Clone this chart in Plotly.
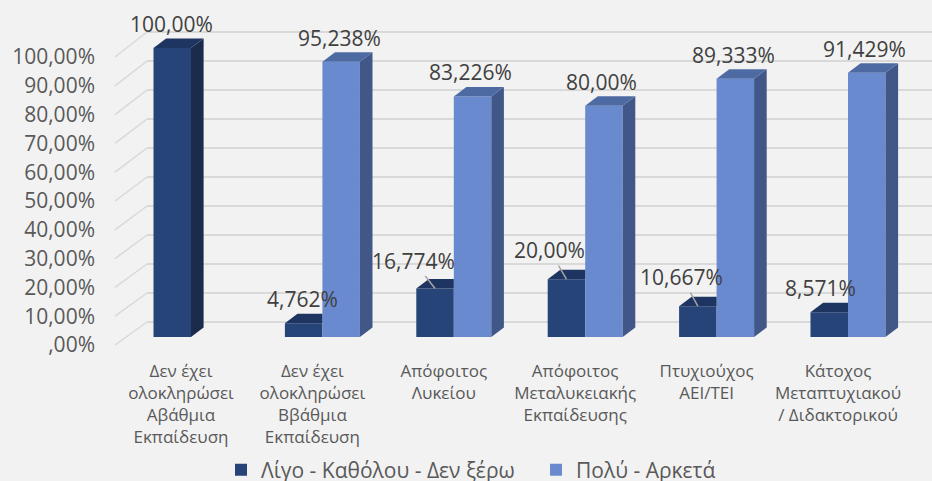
import plotly.graph_objects as go

# --- data ---
categories = [
    "Δεν έχει<br>ολοκληρώσει<br>Αβάθμια<br>Εκπαίδευση",
    "Δεν έχει<br>ολοκληρώσει<br>Ββάθμια<br>Εκπαίδευση",
    "Απόφοιτος<br>Λυκείου",
    "Απόφοιτος<br>Μεταλυκειακής<br>Εκπαίδευσης",
    "Πτυχιούχος<br>ΑΕΙ/ΤΕΙ",
    "Κάτοχος<br>Μεταπτυχιακού<br>/ Διδακτορικού",
]
series_names = ["Λίγο - Καθόλου - Δεν ξέρω", "Πολύ - Αρκετά"]
low_values = [100.0, 4.762, 16.774, 20.0, 10.667, 8.571]
high_values = [None, 95.238, 83.226, 80.0, 89.333, 91.429]
low_labels = ["100,00%", "4,762%", "16,774%", "20,00%", "10,667%", "8,571%"]
high_labels = [None, "95,238%", "83,226%", "80,00%", "89,333%", "91,429%"]
y_ticks = [0, 10, 20, 30, 40, 50, 60, 70, 80, 90, 100]
y_tick_text = [",00%", "10,00%", "20,00%", "30,00%", "40,00%", "50,00%",
               "60,00%", "70,00%", "80,00%", "90,00%", "100,00%"]

# --- styling / geometry (pixels) ---
W, H = 932, 481
PLOT_L, PLOT_B = 147, 350           # plot area: x 147..932, y 0..350
CAT0_PX, CAT_STEP = 191, 131.4      # pixel of first category centre, spacing
BAR_PX = 37.5                       # bar front width
DEPTH_DX, DEPTH_DY = 12.6, 9.5      # 3-D depth of a bar
BAR_ZERO, BAR_SCALE = 337, 2.89     # bar plane: pixel of 0 %, px per 1 %
BACK_ZERO, BACK_SCALE = 322, 2.90   # back wall
FRONT_ZERO, FRONT_SCALE = 345, 2.88 # front plane (tick labels)
WALL_DX = 32
LEGEND_X, LEGEND_Y = 221, 470

DARK = dict(front="#264478", top="#1e3562", side="#1a2b4c")
LIGHT = dict(front="#6a8ad0", top="#4e6aa3", side="#415788")
BG = "#f2f2f2"
GRID = "#d9d9d9"
FONT = "Open Sans"

ux = 1 / CAT_STEP          # data units per pixel, x
uy = 1 / BAR_SCALE         # data units per pixel, y (bar axis)
bw = BAR_PX * ux
ddx, ddy = DEPTH_DX * ux, DEPTH_DY * uy
xs = list(range(len(categories)))

fig = go.Figure()

fig.add_trace(go.Bar(x=xs, y=low_values, name=series_names[0], width=bw, offset=-bw,
                     marker=dict(color=DARK["front"], line=dict(width=0))))
fig.add_trace(go.Bar(x=xs, y=high_values, name=series_names[1], width=bw, offset=0,
                     marker=dict(color=LIGHT["front"], line=dict(width=0))))


def face(xpts, ypts, color):
    fig.add_trace(go.Scatter(x=xpts, y=ypts, fill="toself", fillcolor=color, mode="lines",
                             line=dict(width=0, color=color), showlegend=False,
                             hoverinfo="skip"))


# side and top faces of the 3-D bars
for i, (lo, hi) in enumerate(zip(low_values, high_values)):
    xl, xr = i - bw, i
    hidden = hi is not None and hi > lo
    if hidden:
        face([xl, xl + ddx, xr, xr], [lo, lo + ddy, lo + ddy, lo], DARK["top"])
    else:
        face([xr, xr + ddx, xr + ddx, xr], [0, ddy, lo + ddy, lo], DARK["side"])
        face([xl, xl + ddx, xr + ddx, xr], [lo, lo + ddy, lo + ddy, lo], DARK["top"])
    if hi is not None:
        xl, xr = i, i + bw
        face([xr, xr + ddx, xr + ddx, xr], [0, ddy, hi + ddy, hi], LIGHT["side"])
        face([xl, xl + ddx, xr + ddx, xr], [hi, hi + ddy, hi + ddy, hi], LIGHT["top"])

# data labels
lbl_font = dict(family=FONT, size=21, color="#404040")
leader = {2: (-22, -28), 3: (-17, -29), 4: (-16, -29)}
low_shift = {0: -1, 1: -1, 5: -9}
for i, (v, t) in enumerate(zip(low_values, low_labels)):
    if i in leader:
        ax, ay = leader[i]
        fig.add_annotation(x=i - bw / 2, y=v, text=t, showarrow=True, arrowhead=0,
                           arrowwidth=1.5, arrowcolor="#a6a6a6", ax=ax, ay=ay,
                           font=lbl_font)
    else:
        fig.add_annotation(x=i - bw / 2, y=v, text=t, showarrow=False,
                           xshift=low_shift[i], yshift=24, font=lbl_font)
for i, (v, t) in enumerate(zip(high_values, high_labels)):
    if v is None:
        continue
    fig.add_annotation(x=i + bw / 2, y=v, text=t, showarrow=False, xshift=-2, yshift=24,
                       font=lbl_font)

# diagonal lines from the front tick marks to the back wall
for v in y_ticks:
    y_front = (BACK_ZERO - FRONT_ZERO + FRONT_SCALE * v) / BACK_SCALE
    fig.add_shape(type="line", xref="paper", yref="y2",
                  x0=-WALL_DX / (W - PLOT_L), x1=0, y0=y_front, y1=v,
                  line=dict(color=GRID, width=1.5), layer="below")

fig.update_layout(
    width=W, height=H,
    margin=dict(l=PLOT_L, r=0, t=0, b=H - PLOT_B, autoexpand=False),
    paper_bgcolor=BG, plot_bgcolor=BG,
    barmode="group",
    showlegend=True,
    legend=dict(orientation="h", x=(LEGEND_X - PLOT_L) / (W - PLOT_L), xanchor="left",
                y=(PLOT_B - LEGEND_Y) / PLOT_B, yanchor="middle",
                font=dict(family=FONT, size=21, color="#595959"),
                itemwidth=30, entrywidth=270, bgcolor="rgba(0,0,0,0)",
                traceorder="normal"),
    xaxis=dict(range=[(PLOT_L - CAT0_PX) * ux, (W - CAT0_PX) * ux],
               tickvals=[i - 10 * ux for i in xs], ticktext=categories,
               showgrid=False, zeroline=False, showline=False, ticks="",
               tickfont=dict(family=FONT, size=17, color="#595959"),
               ticklabelstandoff=9),
    yaxis=dict(range=[(BAR_ZERO - PLOT_B) * uy, BAR_ZERO * uy], showgrid=False,
               zeroline=False, showticklabels=False),
    yaxis2=dict(range=[(BACK_ZERO - PLOT_B) / BACK_SCALE, BACK_ZERO / BACK_SCALE],
                overlaying="y", tickmode="array", tickvals=y_ticks,
                showgrid=True, gridcolor=GRID, gridwidth=2, zeroline=False,
                showticklabels=False),
    yaxis3=dict(range=[(FRONT_ZERO - PLOT_B) / FRONT_SCALE, FRONT_ZERO / FRONT_SCALE],
                overlaying="y", tickmode="array", tickvals=y_ticks, ticktext=y_tick_text,
                showgrid=False, zeroline=False, ticks="",
                tickfont=dict(family=FONT, size=21, color="#595959"),
                ticklabelstandoff=PLOT_L - 92 - 4),
)

# dummy traces so the extra axes are drawn
fig.add_trace(go.Scatter(x=[None], y=[None], yaxis="y2", showlegend=False))
fig.add_trace(go.Scatter(x=[None], y=[None], yaxis="y3", showlegend=False))

# drop the browser's default page margin so the chart sits at the window corner
fig.write_html("out.html", config={"displayModeBar": False},
               post_script="document.body.style.margin = '0';")
